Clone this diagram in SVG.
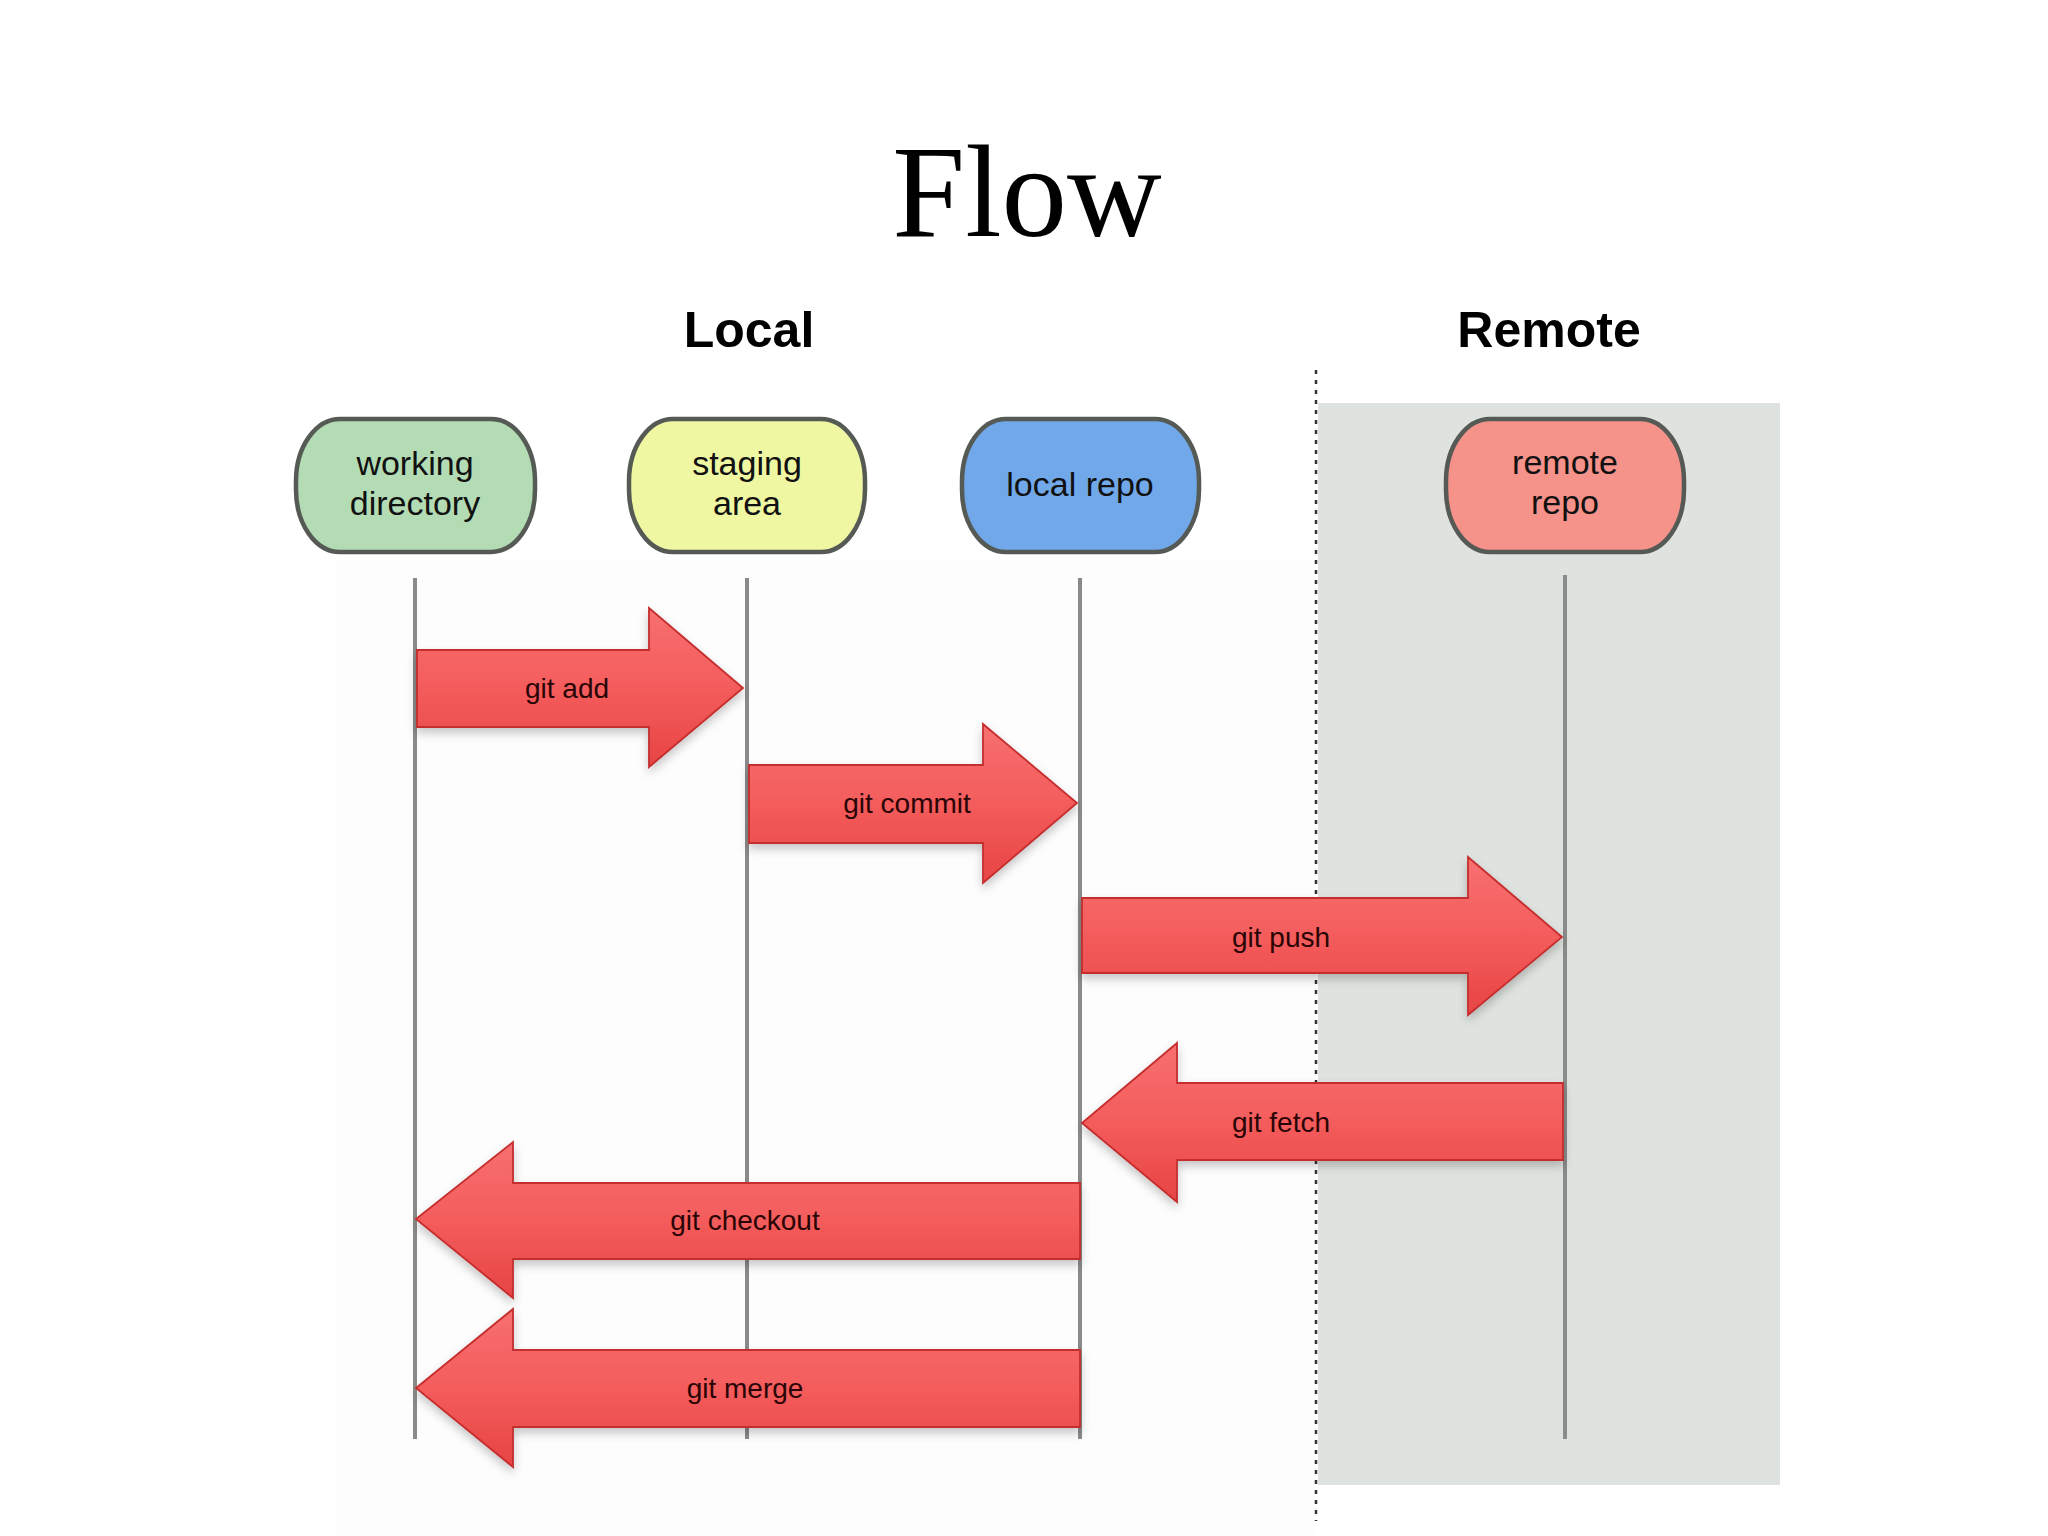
<svg xmlns="http://www.w3.org/2000/svg" width="2048" height="1536" viewBox="0 0 2048 1536">
<defs>
<linearGradient id="red" x1="0" y1="0" x2="0" y2="1">
<stop offset="0" stop-color="#f87070"/>
<stop offset="0.5" stop-color="#f45c5c"/>
<stop offset="1" stop-color="#e84444"/>
</linearGradient>
<filter id="sh" x="-10%" y="-20%" width="120%" height="150%">
<feDropShadow dx="0" dy="5" stdDeviation="5" flood-color="#000" flood-opacity="0.22"/>
</filter>
<style>
.node{stroke:#555a55;stroke-width:4.5}
.lbl{font-family:"Liberation Sans",Arial,sans-serif;font-size:34px;fill:#111;text-anchor:middle}
.alb{font-family:"Liberation Sans",Arial,sans-serif;font-size:28px;fill:#2a0505;text-anchor:middle}
.life{stroke:#8a8a8a;stroke-width:4;fill:none}
.arrow{fill:url(#red);stroke:#c42e2e;stroke-width:1.8;stroke-linejoin:miter;filter:url(#sh)}
.hdr{font-family:"Liberation Sans",Arial,sans-serif;font-size:50px;font-weight:bold;fill:#000;text-anchor:middle}
</style>
</defs>
<rect width="2048" height="1536" fill="#fff"/>
<rect x="335" y="560" width="981" height="976" fill="#fdfdfd"/>
<rect x="1318" y="403" width="462" height="1082" fill="#dfe3df"/>
<line x1="1316" y1="370" x2="1316" y2="1521" stroke="#333" stroke-width="2.5" stroke-dasharray="4,6"/>

<text x="1027" y="236" font-family="'Liberation Serif','Times New Roman',serif" font-size="131" text-anchor="middle" fill="#000">Flow</text>
<text class="hdr" x="749" y="347">Local</text>
<text class="hdr" x="1549" y="347">Remote</text>

<g id="lifelines">
<line class="life" x1="415" y1="578" x2="415" y2="1439"/>
<line class="life" x1="747" y1="578" x2="747" y2="1439"/>
<line class="life" x1="1080" y1="578" x2="1080" y2="1439"/>
<line class="life" x1="1565" y1="575" x2="1565" y2="1439"/>
</g>

<g id="node-working-directory">
<rect class="node" x="296" y="419" width="239" height="133" rx="44" ry="62" fill="#b4dcb4"/>
<text class="lbl" x="415" y="475">working</text>
<text class="lbl" x="415" y="515">directory</text>
</g>
<g id="node-staging-area">
<rect class="node" x="629" y="419" width="236" height="133" rx="44" ry="62" fill="#eff7a2"/>
<text class="lbl" x="747" y="475">staging</text>
<text class="lbl" x="747" y="515">area</text>
</g>
<g id="node-local-repo">
<rect class="node" x="962" y="419" width="237" height="133" rx="44" ry="62" fill="#70a8ea"/>
<text class="lbl" x="1080" y="496" fill="#0a1530">local repo</text>
</g>
<g id="node-remote-repo">
<rect class="node" x="1446" y="419" width="238" height="133" rx="44" ry="62" fill="#f5928a"/>
<text class="lbl" x="1565" y="474" fill="#3a0808">remote</text>
<text class="lbl" x="1565" y="514" fill="#3a0808">repo</text>
</g>

<g id="connectors">
<g id="git-add">
<path class="arrow" d="M417,650 L649,650 L649,608 L743,688 L649,767 L649,727 L417,727 Z"/>
<text class="alb" x="567" y="698">git add</text>
</g>
<g id="git-commit">
<path class="arrow" d="M749,765 L983,765 L983,724 L1077,803 L983,883 L983,843 L749,843 Z"/>
<text class="alb" x="907" y="813">git commit</text>
</g>
<g id="git-push">
<path class="arrow" d="M1082,898 L1468,898 L1468,857 L1562,937 L1468,1015 L1468,973 L1082,973 Z"/>
<text class="alb" x="1281" y="947">git push</text>
</g>
<g id="git-fetch">
<path class="arrow" d="M1563,1083 L1177,1083 L1177,1043 L1082,1123 L1177,1202 L1177,1160 L1563,1160 Z"/>
<text class="alb" x="1281" y="1132">git fetch</text>
</g>
<g id="git-checkout">
<path class="arrow" d="M1080,1183 L513,1183 L513,1142 L416,1219 L513,1298 L513,1259 L1080,1259 Z"/>
<text class="alb" x="745" y="1230">git checkout</text>
</g>
<g id="git-merge">
<path class="arrow" d="M1080,1350 L513,1350 L513,1309 L416,1388 L513,1467 L513,1427 L1080,1427 Z"/>
<text class="alb" x="745" y="1398">git merge</text>
</g>
</g>
</svg>
